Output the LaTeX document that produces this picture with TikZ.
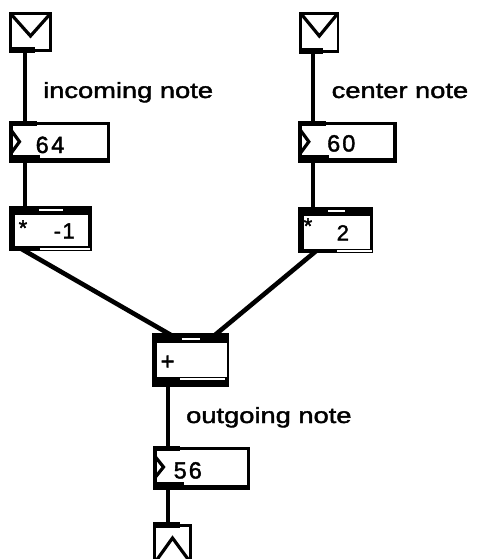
\documentclass[tikz,border=0pt]{standalone}
\usepackage{fontspec}
\setmainfont{Liberation Sans}[FakeBold=1.6]
\usetikzlibrary{calc}
\tikzset{
  obj/.style={rectangle, inner sep=0pt, outer sep=0pt, anchor=north west, draw=none},
  wire/.style={line width=3.8pt, shorten <=-4pt, shorten >=-4pt},
  slant/.style={line width=4.6pt, shorten <=-5pt, shorten >=-5pt},
  glyphline/.style={line width=3.2pt, line join=miter},
  gapline/.style={white, line width=1.8pt},
  lbl/.style={inner sep=0pt, anchor=base west, font=\fontsize{22}{24}\selectfont},
  val/.style={inner sep=0pt, anchor=base west, font=\fontsize{23.5}{25}\selectfont},
  op/.style={inner sep=0pt, anchor=base west, font=\fontsize{22}{24}\selectfont},
}
\newcommand\wlabel[1]{\scalebox{1.24}[1]{#1}}
\begin{document}
\begin{tikzpicture}[x=1pt, y=-1pt]
\useasboundingbox (0,0) rectangle (477,559);
\clip (0,0) rectangle (477,559);

% patch objects
\node[obj, minimum width=43pt, minimum height=40pt] (m1) at (9,12) {};
\node[obj, minimum width=40pt, minimum height=41pt] (m2) at (299.3,12) {};
\node[obj, minimum width=101pt, minimum height=41.3pt] (n1) at (9,122) {};
\node[obj, minimum width=98.4pt, minimum height=41.3pt] (n2) at (298.3,122) {};
\node[obj, minimum width=82.7pt, minimum height=45.3pt] (t1) at (9,205.7) {};
\node[obj, minimum width=75pt, minimum height=46.6pt] (t2) at (298.3,206.7) {};
\node[obj, minimum width=77.6pt, minimum height=53.4pt] (p) at (151.7,333.3) {};
\node[obj, minimum width=97.3pt, minimum height=43pt] (n3) at (152.7,447) {};
\node[obj, minimum width=39pt, minimum height=42pt] (o) at (153,524) {};

% inlets and outlets
\coordinate (m1-out) at ($(m1.south west)+(16,0)$);
\coordinate (n1-in)  at ($(n1.north west)+(16,0)$);
\coordinate (n1-out) at ($(n1.south west)+(16,0)$);
\coordinate (t1-in)  at ($(t1.north west)+(16,0)$);
\coordinate (t1-out) at ($(t1.south west)+(16,0)$);
\coordinate (m2-out) at ($(m2.south west)+(14,0)$);
\coordinate (n2-in)  at ($(n2.north west)+(15,0)$);
\coordinate (n2-out) at ($(n2.south west)+(15,0)$);
\coordinate (t2-in)  at ($(t2.north west)+(15,0)$);
\coordinate (t2-out) at ($(t2.south west)+(15,0)$);
\coordinate (p-inl)  at ($(p.north west)+(16.3,0)$);
\coordinate (p-inr)  at ($(p.north west)+(65.3,0)$);
\coordinate (p-out)  at ($(p.south west)+(16.3,0)$);
\coordinate (n3-in)  at ($(n3.north west)+(15.3,0)$);
\coordinate (n3-out) at ($(n3.south west)+(15.3,0)$);
\coordinate (o-in)   at ($(o.north west)+(15,0)$);

% patch cords (drawn first, boxes cover their ends)
\draw[wire] (m1-out) -- (n1-in);
\draw[wire] (n1-out) -- (t1-in);
\draw[wire] (m2-out) -- (n2-in);
\draw[wire] (n2-out) -- (t2-in);
\draw[slant] (t1-out) -- (p-inl);
\draw[slant] (t2-out) -- (p-inr);
\draw[wire] (p-out) -- (n3-in);
\draw[wire] (n3-out) -- (o-in);

% inlet message boxes
\fill (m1.north west) rectangle (m1.south east);
\fill[white] (11.8,14.8) rectangle (49.2,49);
\fill (9,47.2) rectangle (35,52.7);
\draw[glyphline] (11.8,15) -- (30.5,36) -- (49.2,15);

\fill (m2.north west) rectangle (m2.south east);
\fill[white] (302.1,14.8) rectangle (336.5,50);
\fill (299.3,48.2) rectangle (323,53.7);
\draw[glyphline] (302.1,15) -- (319.3,36) -- (336.5,15);

% number boxes
\fill (n1.north west) rectangle (n1.south east);
\fill[white] (13,124.8) rectangle (106.5,158.3);
\fill (9,121) rectangle (36.7,126.2);
\fill (9,155) rectangle (40,163.3);
\draw[glyphline] (11,130) -- (19.5,141.7) -- (11,153.3);

\fill (n2.north west) rectangle (n2.south east);
\fill[white] (302.3,124.8) rectangle (393.2,158.3);
\fill (298.3,121) rectangle (326,126.2);
\fill (298.3,155) rectangle (329.3,163.3);
\draw[glyphline] (300.3,130) -- (308.8,141.7) -- (300.3,153.3);

\fill (n3.north west) rectangle (n3.south east);
\fill[white] (156.7,449.8) rectangle (246.5,485);
\fill (152.7,446) rectangle (180.4,451.2);
\fill (152.7,481.7) rectangle (183.7,490);
\draw[glyphline] (154.7,456) -- (163.5,467) -- (154.7,478);

% arithmetic boxes
\fill (t1.north west) rectangle (t1.south east);
\fill[white] (15,215) rectangle (88.3,246.3);
\draw[gapline] (39,210) -- (63.3,210);
\draw[gapline] (40,248.6) -- (90,248.6);

\fill (t2.north west) rectangle (t2.south east);
\fill[white] (304.3,216) rectangle (370,248.6);
\draw[gapline] (328,211.2) -- (345,211.2);
\draw[gapline] (337,251) -- (372,251);

\fill (p.north west) rectangle (p.south east);
\fill[white] (156.7,343.3) rectangle (227,376.5);
\draw[gapline] (181.7,339) -- (200,339);
\draw[gapline] (180,379.3) -- (225,379.3);

% outlet box
\fill (o.north west) rectangle (o.south east);
\fill[white] (156,527) rectangle (189.4,563);
\fill (153,521.7) rectangle (180,527.5);
\draw[glyphline] (156,561) -- (172.5,538) -- (189.4,561);

% comments
\node[lbl] (lab-in)  at (43,98)    {\wlabel{incoming note}};
\node[lbl] (lab-ctr) at (331.5,98) {\wlabel{center note}};
\node[lbl] (lab-out) at (186,423)  {\wlabel{outgoing note}};

% box contents
\node[val] (v1) at (35.5,153)    {6\kern2.5pt 4};
\node[val] (v2) at (327,151.5)   {6\kern2pt 0};
\node[val] (v3) at (173.5,478.5) {5\kern2pt 6};
\node[op] (t1-star) at (18.5,235.5) {*};
\node[op] (t1-arg)  at (53.5,238.5) {-\kern1.5pt 1};
\node[op] (t2-star) at (303.5,233.5) {*};
\node[op] (t2-arg)  at (336.5,240.5) {2};
\node[op, font=\fontsize{24}{26}\selectfont] (p-op) at (160.4,369.5) {+};
\end{tikzpicture}
\end{document}
